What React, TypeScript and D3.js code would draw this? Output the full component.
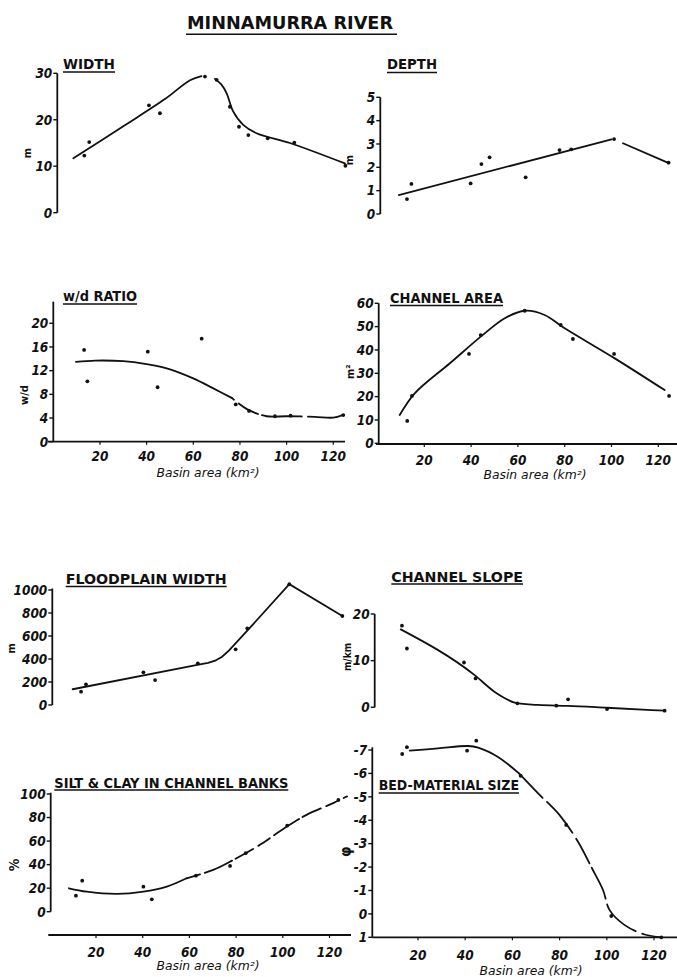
import React from 'react';
import * as d3 from 'd3';

// ---------- data (basin area km², value) ----------
const xTicks = [20, 40, 60, 80, 100, 120];

const widthTicks = [0, 10, 20, 30];
const widthPoints = [[13.3, 12.3], [15.4, 15.2], [41, 23.1], [45.7, 21.4], [65, 29.3], [70, 28.6], [75.7, 22.8], [79.6, 18.5], [83.6, 16.7], [91.9, 16.0], [103.3, 15.1], [125.2, 10.1]];
const widthCurveRise = [[8.6, 11.7], [30, 18.6], [48, 24.5], [58.6, 28.5], [63.5, 29.4]];
const widthCurveFall = [[69.3, 28.8], [72, 27.6], [74.3, 25.7], [77.1, 21.8], [81.4, 18.9], [87.1, 17.1], [101.4, 15], [125, 10.6]];

const depthTicks = [0, 1, 2, 3, 4, 5];
const depthPoints = [[12.6, 0.64], [14.5, 1.29], [39.8, 1.31], [44.4, 2.14], [47.9, 2.43], [63.3, 1.57], [77.8, 2.74], [82.8, 2.77], [101.1, 3.21], [124.4, 2.2]];
const depthLineA = [[9.1, 0.81], [100, 3.2]];
const depthLineB = [[104.9, 3.03], [124, 2.2]];

const wdTicks = [0, 4, 8, 12, 16, 20];
const wdPoints = [[13.2, 15.5], [14.6, 10.2], [40.5, 15.2], [44.7, 9.2], [63.6, 17.4], [78.2, 6.3], [83.9, 5.2], [95, 4.3], [101.7, 4.4], [124.3, 4.5]];
const wdCurveSolid = [[9.7, 13.5], [18, 13.7], [30, 13.6], [40, 13.1], [48.6, 12.4], [60, 10.7], [68.6, 9.0], [76.5, 7.4]];
const wdCurveDashed = [[76.5, 7.4], [83, 5.5], [91.4, 4.3], [100, 4.3], [112, 4.2], [120, 4.07], [124, 4.5]];

const areaTicks = [0, 10, 20, 30, 40, 50, 60];
const areaPoints = [[12.7, 9.6], [14.7, 20.3], [39.1, 38.3], [44.1, 46.4], [62.9, 56.8], [78.3, 50.7], [83.5, 44.7], [101.1, 38.3], [124.6, 20.3]];
const areaCurve = [[9.5, 12.1], [15.9, 21.4], [30.8, 34.2], [45.8, 47.1], [54.4, 53.6], [63, 56.8], [71.4, 55], [80, 49.3], [101.4, 36.4], [122.7, 22.8]];

const floodTicks = [0, 200, 400, 600, 800, 1000];
const floodPoints = [[13.6, 116], [15.7, 180], [40.3, 284], [45.3, 217], [63.6, 362], [79.8, 484], [84.8, 667], [102.8, 1050], [125.5, 774]];
const floodCurve = [[10, 137], [64.5, 354], [68, 366], [71, 385], [74, 420], [77, 475], [84.5, 640], [102.8, 1050], [125.5, 774]];

const slopeTicks = [0, 10, 20];
const slopePoints = [[13.2, 17.5], [15.3, 12.6], [39.5, 9.6], [44.4, 6.2], [62.1, 0.86], [78.6, 0.34], [83.6, 1.7], [100.1, -0.36], [124.5, -0.73]];
const slopeCurve = [[12.7, 16.7], [44, 6.9], [52.5, 3.3], [57, 1.9], [61, 1.0], [70.8, 0.5], [83.5, 0.3], [100, -0.1], [124.5, -0.73]];

const siltTicks = [0, 20, 40, 60, 80, 100];
const siltPoints = [[11.4, 13.6], [14.1, 26.4], [40.3, 21.3], [43.9, 10.5], [62.8, 30.6], [77.4, 38.9], [84.1, 49.7], [101.9, 73.2], [123.8, 95]];
const siltCurveSolid = [[8.4, 19.9], [16, 17], [28.9, 15.1], [40.3, 17], [50.3, 21.3], [58.8, 28.4]];
const siltCurveDashed = [[58.8, 28.4], [70.2, 35.5], [78.8, 44], [90.2, 56.8], [101.9, 72.6], [110.2, 82.3], [121.6, 92.3], [127.5, 98]];

const bedTicks = [-7, -6, -5, -4, -3, -2, -1, 0, 1];
const bedPoints = [[13.3, -6.83], [15.3, -7.12], [40.8, -6.97], [44.7, -7.4], [63.5, -5.9], [82.8, -3.8], [101.9, 0.09], [123.1, 1.0]];
const bedCurveSolid = [[16.5, -6.97], [28.5, -7.07], [41.2, -7.17], [45.5, -7.1], [53.9, -6.7], [62.8, -6.0]];
const bedCurveDashed = [[62.8, -6.0], [70.9, -5.15], [80, -4.22], [87.8, -3.08], [93.4, -2.01], [98.4, -1.02], [101.2, -0.16], [107.6, 0.48], [116, 0.88], [123.1, 1.0]];

// ---------- styling ----------
const FONT = "'DejaVu Sans Condensed', 'DejaVu Sans', sans-serif";
const INK = '#111';

type Curve = { pts: number[][]; dash?: string; kind: 'linear' | 'catmull' | 'monotone' };
type Cfg = {
  xRange: [number, number];
  yDomain: [number, number];
  yRange: [number, number];
  axisX: number;
  axisTop: number;
  axisBottom: number;
  ticks: number[];
  points: number[][];
  curves: Curve[];
  title: { text: string; x1: number; x2: number; y: number; uy: number };
  ylabel: { text: string; x: number; y: number; size?: number; bold?: boolean };
  xaxis?: { y: number; from: number; to: number; labelY: number; titleX: number; titleY: number };
};

const curveOf = (k: Curve['kind']) =>
  k === 'linear' ? d3.curveLinear : k === 'monotone' ? d3.curveMonotoneX : d3.curveCatmullRom.alpha(0.5);

function Panel({ cfg }: { cfg: Cfg }) {
  const x = d3.scaleLinear().domain([0, 120]).range(cfg.xRange);
  const y = d3.scaleLinear().domain(cfg.yDomain).range(cfg.yRange);
  const t = cfg.title;
  return (
    <g>
      {/* title */}
      <text x={t.x1} y={t.y} fontFamily={FONT} fontSize={14} fontWeight="bold" fill={INK}
        textLength={t.x2 - t.x1} lengthAdjust="spacingAndGlyphs">{t.text}</text>
      <line x1={t.x1} x2={t.x2} y1={t.uy} y2={t.uy} stroke={INK} strokeWidth={1.5} />
      {/* y axis */}
      <line x1={cfg.axisX} x2={cfg.axisX} y1={cfg.axisTop} y2={cfg.axisBottom} stroke={INK} strokeWidth={1.8} />
      {cfg.ticks.map((v) => (
        <g key={v}>
          <line x1={cfg.axisX - 4} x2={cfg.axisX} y1={y(v)} y2={y(v)} stroke={INK} strokeWidth={1.4} />
          <text x={cfg.axisX - 5} y={y(v) + 4.8} textAnchor="end" fontFamily={FONT} fontSize={13.5}
            fontWeight="bold" fill={INK} fontStyle="italic">{String(v)}</text>
        </g>
      ))}
      <text transform={`translate(${cfg.ylabel.x},${cfg.ylabel.y}) rotate(-90)`} textAnchor="middle"
        dominantBaseline="middle" fontFamily={FONT} fontSize={cfg.ylabel.size ?? 10}
        fontWeight="bold" fill={INK}>{cfg.ylabel.text}</text>
      {/* x axis */}
      {cfg.xaxis && (
        <g>
          <line x1={cfg.xaxis.from} x2={cfg.xaxis.to} y1={cfg.xaxis.y} y2={cfg.xaxis.y} stroke={INK} strokeWidth={1.8} />
          {xTicks.map((v) => (
            <g key={v}>
              <line x1={x(v)} x2={x(v)} y1={cfg.xaxis!.y} y2={cfg.xaxis!.y + 3} stroke={INK} strokeWidth={1.2} />
              <text x={x(v)} y={cfg.xaxis!.labelY} textAnchor="middle" fontFamily={FONT} fontSize={13.5}
                fontWeight="bold" fontStyle="italic" fill={INK}>{String(v)}</text>
            </g>
          ))}
          <text x={cfg.xaxis.titleX} y={cfg.xaxis.titleY} textAnchor="middle" fontFamily={FONT} fontSize={11.5}
            fontStyle="italic" fill={INK} textLength={103} lengthAdjust="spacingAndGlyphs">Basin area (km²)</text>
        </g>
      )}
      {/* curves */}
      {cfg.curves.map((c, i) => {
        const gen = d3.line<number[]>().x((d) => x(d[0])).y((d) => y(d[1])).curve(curveOf(c.kind));
        return <path key={i} d={gen(c.pts) || ''} fill="none" stroke={INK} strokeWidth={1.8}
          strokeDasharray={c.dash} strokeLinecap="round" />;
      })}
      {/* points */}
      {cfg.points.map((p, i) => (
        <circle key={i} cx={x(p[0])} cy={y(p[1])} r={1.9} fill={INK} />
      ))}
    </g>
  );
}

const LT: [number, number] = [53.3, 53.3 + 2.333 * 120];
const RT: [number, number] = [377.5, 377.5 + 2.34 * 120];
const LB: [number, number] = [49.3, 49.3 + 2.335 * 120];
const RB: [number, number] = [370.8, 370.8 + 2.36 * 120];

const panels: Cfg[] = [
  {
    xRange: LT, yDomain: [0, 30], yRange: [212.7, 73.3], axisX: 57.3, axisTop: 73.3, axisBottom: 212.7,
    ticks: widthTicks, points: widthPoints,
    curves: [{ pts: widthCurveRise, kind: 'catmull' }, { pts: widthCurveFall, kind: 'catmull' }],
    title: { text: 'WIDTH', x1: 63, x2: 115, y: 69, uy: 72 },
    ylabel: { text: 'm', x: 28, y: 153, size: 11 },
  },
  {
    xRange: RT, yDomain: [0, 5], yRange: [214, 97.3], axisX: 380.3, axisTop: 97.3, axisBottom: 214,
    ticks: depthTicks, points: depthPoints,
    curves: [{ pts: depthLineA, kind: 'linear' }, { pts: depthLineB, kind: 'linear' }],
    title: { text: 'DEPTH', x1: 387, x2: 437, y: 69, uy: 72.5 },
    ylabel: { text: 'm', x: 350, y: 160, size: 11 },
  },
  {
    xRange: LT, yDomain: [0, 20], yRange: [441.7, 323.3], axisX: 53.3, axisTop: 301.7, axisBottom: 441.7,
    ticks: wdTicks, points: wdPoints,
    curves: [{ pts: wdCurveSolid, kind: 'catmull' }, { pts: wdCurveDashed, kind: 'catmull', dash: '3,6,22,4,40,6,60,4' }],
    title: { text: 'w/d RATIO', x1: 63, x2: 137, y: 301, uy: 304 },
    ylabel: { text: 'w/d', x: 25, y: 395, size: 11 },
    xaxis: { y: 441.7, from: 48, to: 345, labelY: 461, titleX: 208, titleY: 477 },
  },
  {
    xRange: RT, yDomain: [0, 60], yRange: [443.3, 303.3], axisX: 378.7, axisTop: 303.3, axisBottom: 443.3,
    ticks: areaTicks, points: areaPoints,
    curves: [{ pts: areaCurve, kind: 'catmull' }],
    title: { text: 'CHANNEL AREA', x1: 390, x2: 503, y: 303, uy: 305.5 },
    ylabel: { text: 'm²', x: 350.7, y: 371.7, size: 11 },
    xaxis: { y: 444, from: 376, to: 677, labelY: 465, titleX: 535, titleY: 479 },
  },
  {
    xRange: LB, yDomain: [0, 1000], yRange: [705, 590], axisX: 52.3, axisTop: 588.5, axisBottom: 705,
    ticks: floodTicks, points: floodPoints,
    curves: [{ pts: floodCurve, kind: 'linear' }],
    title: { text: 'FLOODPLAIN  WIDTH', x1: 65.7, x2: 226.7, y: 584, uy: 586.5 },
    ylabel: { text: 'm', x: 11.7, y: 648.3, size: 11 },
  },
  {
    xRange: RB, yDomain: [0, 20], yRange: [707.3, 614], axisX: 374.7, axisTop: 614, axisBottom: 707.3,
    ticks: slopeTicks, points: slopePoints,
    curves: [{ pts: slopeCurve, kind: 'monotone' }],
    title: { text: 'CHANNEL  SLOPE', x1: 391.3, x2: 523, y: 581.5, uy: 584 },
    ylabel: { text: 'm/km', x: 348, y: 657, size: 10 },
  },
  {
    xRange: LB, yDomain: [0, 100], yRange: [911.7, 794], axisX: 50.7, axisTop: 792.7, axisBottom: 911.7,
    ticks: siltTicks, points: siltPoints,
    curves: [{ pts: siltCurveSolid, kind: 'catmull' }, { pts: siltCurveDashed, kind: 'catmull', dash: '14,5,30,4,20,6' }],
    title: { text: 'SILT & CLAY IN CHANNEL BANKS', x1: 54.3, x2: 288.3, y: 788, uy: 790 },
    ylabel: { text: '%', x: 15, y: 865, size: 14, bold: true },
    xaxis: { y: 935, from: 48.3, to: 351, labelY: 957, titleX: 208, titleY: 970 },
  },
  {
    xRange: RB, yDomain: [-7, 1], yRange: [750, 937.3], axisX: 372.3, axisTop: 747.3, axisBottom: 937.3,
    ticks: bedTicks, points: bedPoints,
    curves: [{ pts: bedCurveSolid, kind: 'catmull' }, { pts: bedCurveDashed, kind: 'catmull', dash: '34,6,40,7,28,5' }],
    title: { text: 'BED-MATERIAL SIZE', x1: 378.7, x2: 519, y: 790, uy: 793 },
    ylabel: { text: 'φ', x: 346.3, y: 851.7, size: 15, bold: true },
    xaxis: { y: 937.3, from: 372.3, to: 677, labelY: 960, titleX: 531, titleY: 975 },
  },
];

export default function App() {
  return (
    <svg width={677} height={977} viewBox="0 0 677 977"
      style={{ position: 'absolute', left: 0, top: 0, background: '#fff' }}>
      <rect x={0} y={0} width={677} height={977} fill="#fff" />
      <text x={187} y={28.5} fontFamily={FONT} fontSize={17} fontWeight="bold" fill={INK} textLength={206}
        lengthAdjust="spacingAndGlyphs">MINNAMURRA RIVER</text>
      <line x1={186} x2={397} y1={34.3} y2={34.3} stroke={INK} strokeWidth={1.6} />
      {panels.map((p, i) => <Panel key={i} cfg={p} />)}
    </svg>
  );
}
